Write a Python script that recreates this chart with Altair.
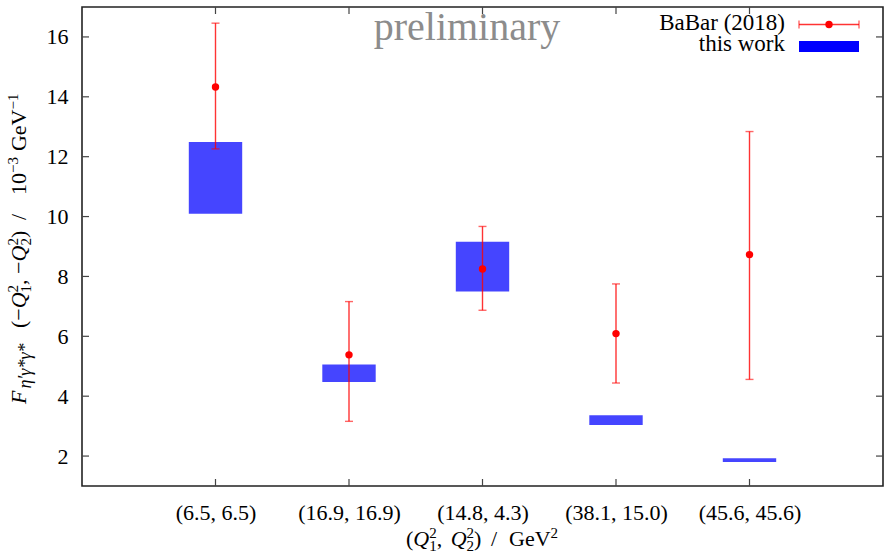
import json
import altair as alt
import pandas as pd

# kinematic points (Q1^2, Q2^2) in GeV^2
labels = ["(6.5, 6.5)", "(16.9, 16.9)", "(14.8, 4.3)", "(38.1, 15.0)", "(45.6, 45.6)"]
pos = [1, 2, 3, 4, 5]

# this work: band from lower to upper value (10^-3 GeV^-1)
work_lo = [10.09, 4.47, 7.50, 3.04, 1.80]
work_hi = [12.49, 5.06, 9.16, 3.36, 1.93]

# BaBar (2018): central value with error range
babar_val = [14.33, 5.38, 8.25, 6.09, 8.73]
babar_lo = [12.26, 3.16, 6.87, 4.44, 4.56]
babar_hi = [16.46, 7.16, 9.67, 7.75, 12.84]

y_ticks = [2, 4, 6, 8, 10, 12, 14, 16]

W, H = 801, 479
FONT = "Liberation Serif"
HALF = 0.2  # half width of the bands in x units

df = pd.DataFrame({
    "pos": pos,
    "x0": [p - HALF for p in pos],
    "x1": [p + HALF for p in pos],
    "lo": work_lo,
    "hi": work_hi,
    "val": babar_val,
    "elo": babar_lo,
    "ehi": babar_hi,
})
ytick_df = pd.DataFrame({"v": y_ticks})
xtick_df = pd.DataFrame({"p": pos})
one = pd.DataFrame({"k": [0]})

xscale = alt.Scale(domain=[0, 6], nice=False, zero=False)
yscale = alt.Scale(domain=[1, 17], nice=False, zero=False)

label_expr = json.dumps(labels) + "[datum.value - 1]"
xaxis = alt.Axis(values=pos, labelExpr=label_expr, ticks=False, domain=False,
                 grid=False, labelPadding=16, title=None,
                 labelFont=FONT, labelFontSize=22, labelColor="black")
yaxis = alt.Axis(values=y_ticks, ticks=False, domain=False, grid=False,
                 labelPadding=14, title=None,
                 labelFont=FONT, labelFontSize=22, labelColor="black")


def X(field):
    return alt.X(field, scale=xscale, axis=xaxis)


def Y(field):
    return alt.Y(field, scale=yscale, axis=yaxis)


bands = alt.Chart(df).mark_rect(color="#0000ff", opacity=0.73).encode(
    x=X("x0:Q"), x2="x1:Q", y=Y("lo:Q"), y2="hi:Q")

err_line = alt.Chart(df).mark_rule(color="#ff0000", strokeWidth=1.4, opacity=0.8).encode(
    x=X("pos:Q"), y=Y("elo:Q"), y2="ehi:Q")
cap_lo = alt.Chart(df).mark_tick(color="#ff0000", orient="horizontal", size=8,
                                 thickness=1.4, opacity=0.6).encode(
    x=X("pos:Q"), y=Y("elo:Q"))
cap_hi = alt.Chart(df).mark_tick(color="#ff0000", orient="horizontal", size=8,
                                 thickness=1.4, opacity=0.6).encode(
    x=X("pos:Q"), y=Y("ehi:Q"))
points = alt.Chart(df).mark_circle(color="#ff0000", size=55, opacity=1).encode(
    x=X("pos:Q"), y=Y("val:Q"))

# inward tick marks on all four sides
tick_style = dict(color="#444444", strokeWidth=1.2)
yt_left = alt.Chart(ytick_df).mark_rule(**tick_style).encode(
    y=Y("v:Q"), x=alt.value(0), x2=alt.value(7))
yt_right = alt.Chart(ytick_df).mark_rule(**tick_style).encode(
    y=Y("v:Q"), x=alt.value(W - 7), x2=alt.value(W))
xt_bottom = alt.Chart(xtick_df).mark_rule(**tick_style).encode(
    x=X("p:Q"), y=alt.value(H - 7), y2=alt.value(H))
xt_top = alt.Chart(xtick_df).mark_rule(**tick_style).encode(
    x=X("p:Q"), y=alt.value(0), y2=alt.value(7))

# watermark
prelim = alt.Chart(one).mark_text(font=FONT, fontSize=40, color="#8c8c8c",
                                  align="center", baseline="alphabetic").encode(
    x=alt.value(385), y=alt.value(33), text=alt.value("preliminary"))

# ---- typeset axis titles from small runs of text ----
EM = {"(": .333, ")": .333, "−": .564, "Q": .722, ",": .25, " ": .25, "/": .278,
      "G": .722, "e": .444, "V": .722, "F": .611, "η": .5, "′": .3, "γ": .45, "*": .5}
SUB, SUP = 5, -8  # baseline shifts for sub- and superscripts


def width(s, size):
    return sum(EM.get(c, .5) for c in s) * size


def typeset(tokens, start):
    """Lay runs out one after another; returns (text, offset, shift, size, italic)."""
    out, p = [], start
    for tok in tokens:
        kind = tok[0]
        if kind == "gap":
            p += tok[1]
        elif kind == "stack":
            _, lo, hi, size = tok
            out.append((lo, p, SUB, size, False))
            out.append((hi, p, SUP, size, False))
            p += max(width(lo, size), width(hi, size))
        else:
            _, text, size, shift, italic = tok
            out.append((text, p, shift, size, italic))
            p += width(text, size)
    return out


def run_mark(text, x, y, size, italic, angle=0):
    return alt.Chart(one).mark_text(
        font=FONT, fontSize=size, color="black", angle=angle, align="left",
        baseline="alphabetic", fontStyle="italic" if italic else "normal").encode(
        x=alt.value(x), y=alt.value(y), text=alt.value(text))


M, S = 22, 15  # main and script sizes

# y-axis title, rotated: F_{η'γ*γ*}(−Q1², −Q2²) / 10⁻³ GeV⁻¹
ytitle_groups = [
    (0, [("t", "F", M, 0, True), ("gap", 2), ("t", "η′γ*γ*", 18, SUB, True)]),
    (76, [("t", "(−", M, 0, False), ("t", "Q", M, 0, True), ("stack", "1", "2", S),
          ("t", ", −", M, 0, False), ("t", "Q", M, 0, True), ("stack", "2", "2", S),
          ("t", ")", M, 0, False)]),
    (184, [("t", "/", M, 0, False)]),
    (209, [("t", "10", M, 0, False), ("t", "−3", S, SUP, False), ("gap", 6),
           ("t", "GeV", M, 0, False), ("t", "−1", S, SUP, False)]),
]
BX, Y0 = -56, 397  # baseline (screen x) and start (screen y) of the rotated title
ytitle_layers = []
for offset, toks in ytitle_groups:
    for text, p, shift, size, italic in typeset(toks, offset):
        ytitle_layers.append(run_mark(text, BX + shift, Y0 - p, size, italic, angle=270))

# x-axis title: (Q1², Q2²) / GeV²
xtitle_groups = [
    (324, [("t", "(", M, 0, False), ("t", "Q", M, 0, True), ("stack", "1", "2", S),
           ("t", ", ", M, 0, False), ("gap", 3), ("t", "Q", M, 0, True),
           ("stack", "2", "2", S), ("t", ")", M, 0, False)]),
    (409, [("t", "/", M, 0, False)]),
    (427, [("t", "GeV", M, 0, False), ("t", "2", S, SUP, False)]),
]
BY = 539
xtitle_layers = []
for offset, toks in xtitle_groups:
    for text, p, shift, size, italic in typeset(toks, offset):
        xtitle_layers.append(run_mark(text, p, BY + shift, size, italic))

# legend
leg_t1 = alt.Chart(one).mark_text(font=FONT, fontSize=23, align="right",
                                  baseline="alphabetic", color="black").encode(
    x=alt.value(703), y=alt.value(23), text=alt.value("BaBar (2018)"))
leg_t2 = alt.Chart(one).mark_text(font=FONT, fontSize=23, align="right",
                                  baseline="alphabetic", color="black").encode(
    x=alt.value(703), y=alt.value(44), text=alt.value("this work"))
leg_line = alt.Chart(one).mark_rule(color="#ff0000", strokeWidth=1.4, opacity=0.8).encode(
    x=alt.value(717), x2=alt.value(777), y=alt.value(17.5))
leg_cap1 = alt.Chart(one).mark_rule(color="#ff0000", strokeWidth=1.4, opacity=0.6).encode(
    x=alt.value(717), y=alt.value(13.5), y2=alt.value(21.5))
leg_cap2 = alt.Chart(one).mark_rule(color="#ff0000", strokeWidth=1.4, opacity=0.6).encode(
    x=alt.value(777), y=alt.value(13.5), y2=alt.value(21.5))
leg_pt = alt.Chart(one).mark_circle(color="#ff0000", size=55, opacity=1).encode(
    x=alt.value(747), y=alt.value(17.5))
leg_box = alt.Chart(one).mark_rect(color="#0000ff").encode(
    x=alt.value(717), x2=alt.value(777), y=alt.value(34), y2=alt.value(45))

chart = alt.layer(
    bands, err_line, cap_lo, cap_hi, points,
    yt_left, yt_right, xt_bottom, xt_top,
    prelim, *ytitle_layers, *xtitle_layers,
    leg_t1, leg_t2, leg_line, leg_cap1, leg_cap2, leg_pt, leg_box,
).properties(
    width=W, height=H,
    padding={"left": 82, "top": 7, "right": 3, "bottom": 68},
    autosize=alt.AutoSizeParams(type="none"),
    background="white",
).configure_view(
    stroke="#222222", strokeWidth=1.6,
)

chart.save("out.html", embed_options={"renderer": "svg", "actions": False})
